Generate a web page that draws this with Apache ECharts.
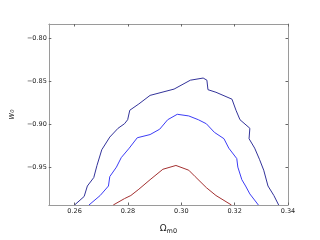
<!DOCTYPE html>
<html><head><meta charset="utf-8">
<script src="https://cdn.jsdelivr.net/npm/echarts@6/dist/echarts.min.js"></script>
<style>html,body{margin:0;padding:0;background:#fff}#c{width:320px;height:240px}</style>
</head><body><div id="c"></div>
<script>
const xTicks = [0.26, 0.28, 0.30, 0.32, 0.34];
const yTicks = [-0.95, -0.90, -0.85, -0.80];
const outerContour = [[0.2600,-0.9932],[0.2636,-0.9833],[0.2648,-0.9712],[0.2672,-0.9614],[0.2684,-0.9474],[0.2702,-0.9292],[0.2732,-0.9145],[0.2763,-0.9043],[0.2787,-0.8991],[0.2799,-0.8944],[0.2807,-0.8834],[0.2841,-0.8761],[0.2883,-0.8662],[0.2973,-0.8589],[0.3034,-0.8486],[0.3082,-0.8461],[0.3096,-0.8486],[0.3100,-0.8596],[0.3130,-0.8626],[0.3190,-0.8706],[0.3205,-0.8834],[0.3220,-0.8944],[0.3257,-0.9043],[0.3254,-0.9164],[0.3275,-0.9273],[0.3293,-0.9402],[0.3309,-0.9529],[0.3325,-0.9712],[0.3347,-0.9822],[0.3365,-0.9932]];
const middleContour = [[0.2654,-0.9932],[0.2696,-0.9822],[0.2727,-0.9712],[0.2732,-0.9603],[0.2757,-0.9493],[0.2775,-0.9383],[0.2805,-0.9273],[0.2835,-0.9153],[0.2883,-0.9116],[0.2919,-0.9054],[0.2949,-0.8944],[0.2985,-0.8881],[0.3028,-0.8900],[0.3064,-0.8944],[0.3094,-0.8991],[0.3124,-0.9090],[0.3160,-0.9164],[0.3178,-0.9273],[0.3208,-0.9394],[0.3212,-0.9493],[0.3227,-0.9639],[0.3241,-0.9712],[0.3257,-0.9804],[0.3289,-0.9932]];
const innerContour = [[0.2745,-0.9932],[0.2787,-0.9858],[0.2811,-0.9822],[0.2841,-0.9749],[0.2883,-0.9639],[0.2931,-0.9518],[0.2980,-0.9474],[0.3028,-0.9529],[0.3052,-0.9603],[0.3094,-0.9731],[0.3130,-0.9822],[0.3188,-0.9932]];

const XMIN = 0.25035, XMAX = 0.34, YMIN = -0.9932, YMAX = -0.7835;
const font = 'DejaVu Sans';
const axisLine = {show: true, lineStyle: {color: '#9a9a9a', width: 1}};
function fmt(v){ return (v < 0 ? '\u2212' : '') + Math.abs(v).toFixed(2); }

const chart = echarts.init(document.getElementById('c'), null, {renderer: 'canvas'});
chart.setOption({
  animation: false,
  grid: {left: 40, right: 32, top: 24, bottom: 25},
  xAxis: [
    {type: 'value', min: XMIN, max: XMAX, position: 'bottom',
     axisLine: axisLine, splitLine: {show: false},
     axisTick: {show: true, inside: true, length: 2.5, customValues: xTicks, lineStyle: {color: '#666'}},
     axisLabel: {customValues: xTicks, formatter: fmt, fontFamily: font, fontSize: 6.5, color: '#222', margin: 3},
     name: '{a|\u03A9}{b|m0}', nameLocation: 'middle', nameGap: 18,
     nameTextStyle: {rich: {a: {fontFamily: font, fontSize: 9, color: '#222'}, b: {fontFamily: font, fontSize: 6.5, color: '#222', padding: [5, 0, 0, 0]}}}},
    {type: 'value', min: XMIN, max: XMAX, position: 'top',
     axisLine: axisLine, splitLine: {show: false},
     axisTick: {show: true, inside: true, length: 2.5, customValues: xTicks, lineStyle: {color: '#666'}},
     axisLabel: {show: false}}
  ],
  yAxis: [
    {type: 'value', min: YMIN, max: YMAX, position: 'left',
     axisLine: axisLine, splitLine: {show: false},
     axisTick: {show: true, inside: true, length: 2.5, customValues: yTicks, lineStyle: {color: '#666'}},
     axisLabel: {customValues: yTicks, formatter: fmt, fontFamily: font, fontSize: 6.5, color: '#222', margin: 2},
     name: 'w\u2080', nameLocation: 'middle', nameGap: 28, nameRotate: 90,
     nameTextStyle: {fontFamily: font, fontSize: 8, fontStyle: 'italic', color: '#222'}},
    {type: 'value', min: YMIN, max: YMAX, position: 'right',
     axisLine: axisLine, splitLine: {show: false},
     axisTick: {show: true, inside: true, length: 2.5, customValues: yTicks, lineStyle: {color: '#666'}},
     axisLabel: {show: false}}
  ],
  series: [
    {type: 'line', data: outerContour, showSymbol: false, clip: true, lineStyle: {color: '#33339a', width: 1}},
    {type: 'line', data: middleContour, showSymbol: false, clip: true, lineStyle: {color: '#3c3cf5', width: 1}},
    {type: 'line', data: innerContour, showSymbol: false, clip: true, lineStyle: {color: '#a33030', width: 1}}
  ]
});
</script></body></html>
